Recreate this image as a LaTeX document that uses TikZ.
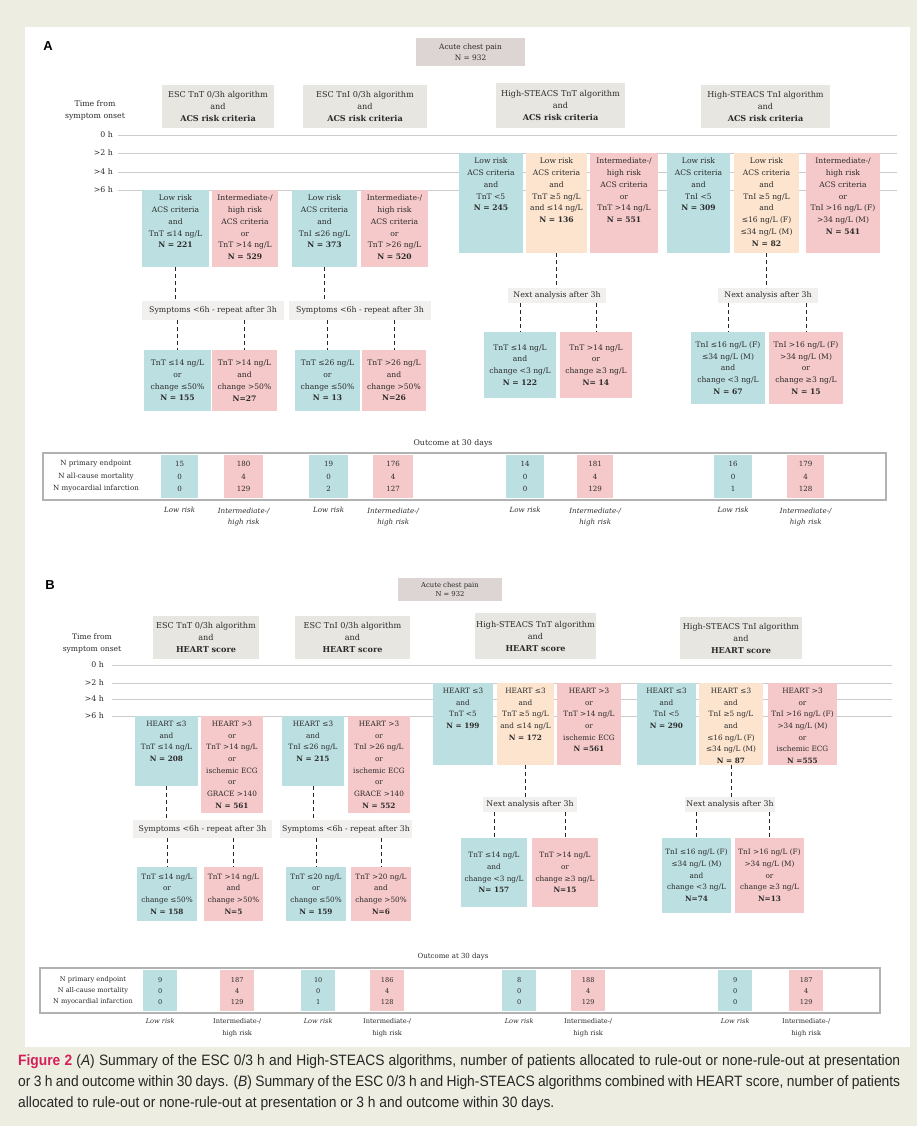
\documentclass[tikz,border=0pt]{standalone}
\usepackage{fontspec}
\setmainfont{DejaVu Serif}
\newfontfamily\capfont[FakeStretch=0.92]{Liberation Sans}
\newfontfamily\labfont{Liberation Sans}
\usetikzlibrary{positioning,calc}

\definecolor{pagebg}{HTML}{EDEEE1}
\definecolor{lowc}{HTML}{BCDFE1}
\definecolor{highc}{HTML}{F5C8C9}
\definecolor{midc}{HTML}{FCE4CE}
\definecolor{headc}{HTML}{E7E6E1}
\definecolor{rootc}{HTML}{DDD4D4}
\definecolor{notec}{HTML}{F1F0EE}
\definecolor{txt}{HTML}{2B2B2B}
\definecolor{figred}{HTML}{D3205A}

\newcommand{\boxfont}{\fontsize{7.6}{11.8}\selectfont}
\newcommand{\headfont}{\fontsize{8.1}{12}\selectfont}
\newcommand{\notefont}{\fontsize{7.8}{9}\selectfont}
\newcommand{\cellfont}{\fontsize{7.1}{12.5}\selectfont}

\tikzstyle{cell} = [inner sep=0pt, outer sep=0pt, align=center, text=txt, font=\boxfont]
\tikzstyle{lowrisk} = [cell, fill=lowc]
\tikzstyle{midrisk} = [cell, fill=midc]
\tikzstyle{highrisk} = [cell, fill=highc]
\tikzstyle{headbox} = [cell, fill=headc, anchor=north west, font=\headfont]
\tikzstyle{rootbox} = [cell, fill=rootc, font=\fontsize{7.4}{11}\selectfont]
\tikzstyle{notebox} = [cell, fill=notec, anchor=north west, font=\notefont]
\tikzstyle{flow} = [draw=black!85, dashed, dash pattern=on 4pt off 3pt, line width=0.8pt]
\tikzstyle{hourline} = [draw=gray!40, line width=0.8pt]
\tikzstyle{hourtext} = [inner sep=0pt, align=center, text=txt, font=\notefont]
\tikzstyle{tablecell} = [inner sep=0pt, align=center, text=txt, font=\cellfont, anchor=north west]
\tikzstyle{risklabel} = [inner sep=0pt, align=center, text=txt, font=\fontsize{7.1}{12}\selectfont\itshape, anchor=north]
\tikzstyle{tableframe} = [draw=gray!60, line width=2.4pt]
\tikzstyle{panellabel} = [inner sep=0pt, font=\labfont\bfseries\fontsize{13}{13}\selectfont]
\tikzstyle{capline} = [inner sep=0pt, anchor=west, text=black!85, font=\capfont\fontsize{15}{17}\selectfont]

% coloured box, text hung from the top edge
\newcommand{\topbox}[7]{%
  \node[#2, minimum width=#5, minimum height=#6, anchor=north west] (#1) at (#3,#4) {};
  \node[cell, anchor=north] (#1-t) at ([yshift=-5pt]#1.north) {#7};
}

\begin{document}
\begin{tikzpicture}[x=1pt,y=-1pt]
  \fill[pagebg] (0,0) rectangle (917,1126);
  \useasboundingbox (0,0) rectangle (917,1126);
  \fill[white] (25,27) rectangle (910,1047);

  % ---------------- panel A ----------------
  \node[panellabel] (labA) at (48,46) {A};
  \node[rootbox, minimum width=109, minimum height=28] (rootA) at (470.5,52) {Acute chest pain\\N = 932};
  \node[headbox, minimum width=112, minimum height=43] (escTnTA) at (162,85) {ESC TnT 0/3h algorithm\\and\\\textbf{ACS risk criteria}};
  \node[headbox, minimum width=124, minimum height=43] (escTnIA) at (303,85) {ESC TnI 0/3h algorithm\\and\\\textbf{ACS risk criteria}};
  \node[headbox, minimum width=129, minimum height=45] (hsTnTA) at (496,83) {High-STEACS TnT algorithm\\and\\\textbf{ACS risk criteria}};
  \node[headbox, minimum width=129, minimum height=43] (hsTnIA) at (701,85) {High-STEACS TnI algorithm\\and\\\textbf{ACS risk criteria}};

  \node[hourtext, font=\fontsize{7.8}{12}\selectfont] (onsetA) at (95,110) {Time from\\symptom onset};
  \foreach \y/\t in {135/0 h, 153/>2 h, 172/>4 h, 190/>6 h}{
    \node[hourtext, anchor=east] (hourA\y) at (113,\y) {\t};
    \draw[hourline] ([xshift=5pt]hourA\y.east) -- (897,\y);
  }

  \topbox{lowTnTA}{lowrisk}{142}{190}{67}{77}{Low risk\\ACS criteria\\and\\TnT ≤14 ng/L\\\textbf{N = 221}}
  \topbox{highTnTA}{highrisk}{212}{190}{66}{77}{Intermediate-/\\high risk\\ACS criteria\\or\\TnT >14 ng/L\\\textbf{N = 529}}
  \topbox{lowTnIA}{lowrisk}{292}{190}{65}{77}{Low risk\\ACS criteria\\and\\TnI ≤26 ng/L\\\textbf{N = 373}}
  \topbox{highTnIA}{highrisk}{361}{190}{67}{77}{Intermediate-/\\high risk\\ACS criteria\\or\\TnT >26 ng/L\\\textbf{N = 520}}
  \topbox{lowHTA}{lowrisk}{459}{153}{64}{100}{Low risk\\ACS criteria\\and\\TnT <5\\\textbf{N = 245}}
  \topbox{midHTA}{midrisk}{526}{153}{61}{100}{Low risk\\ACS criteria\\and\\TnT ≥5 ng/L\\and ≤14 ng/L\\\textbf{N = 136}}
  \topbox{highHTA}{highrisk}{590}{153}{68}{100}{Intermediate-/\\high risk\\ACS criteria\\or\\TnT >14 ng/L\\\textbf{N = 551}}
  \topbox{lowHIA}{lowrisk}{667}{153}{63}{100}{Low risk\\ACS criteria\\and\\TnI <5\\\textbf{N = 309}}
  \topbox{midHIA}{midrisk}{734}{153}{65}{100}{Low risk\\ACS criteria\\and\\TnI ≥5 ng/L\\and\\≤16 ng/L (F)\\≤34 ng/L (M)\\\textbf{N = 82}}
  \topbox{highHIA}{highrisk}{806}{153}{74}{100}{Intermediate-/\\high risk\\ACS criteria\\or\\TnI >16 ng/L (F)\\>34 ng/L (M)\\\textbf{N = 541}}

  \node[notebox, minimum width=142, minimum height=19] (symA1) at (142,301) {Symptoms <6h - repeat after 3h};
  \node[notebox, minimum width=142, minimum height=19] (symA2) at (289,301) {Symptoms <6h - repeat after 3h};
  \node[notebox, minimum width=98, minimum height=15] (nextA1) at (508,288) {Next analysis after 3h};
  \node[notebox, minimum width=100, minimum height=15] (nextA2) at (718,288) {Next analysis after 3h};

  \node[lowrisk, minimum width=67, minimum height=61, anchor=north west] (lowTnTA2) at (144,350) {TnT ≤14 ng/L\\or\\change ≤50\%\\\textbf{N = 155}};
  \node[highrisk, minimum width=65, minimum height=61, anchor=north west] (highTnTA2) at (212,350) {TnT >14 ng/L\\and\\change >50\%\\\textbf{N=27}};
  \node[lowrisk, minimum width=65, minimum height=61, anchor=north west] (lowTnIA2) at (295,350) {TnT ≤26 ng/L\\or\\change ≤50\%\\\textbf{N = 13}};
  \node[highrisk, minimum width=64, minimum height=61, anchor=north west] (highTnIA2) at (362,350) {TnT >26 ng/L\\and\\change >50\%\\\textbf{N=26}};
  \node[lowrisk, minimum width=72, minimum height=66, anchor=north west] (lowHTA2) at (484,332) {TnT ≤14 ng/L\\and\\change <3 ng/L\\\textbf{N = 122}};
  \node[highrisk, minimum width=72, minimum height=66, anchor=north west] (highHTA2) at (560,332) {TnT >14 ng/L\\or\\change ≥3 ng/L\\\textbf{N= 14}};
  \node[lowrisk, minimum width=74, minimum height=72, anchor=north west] (lowHIA2) at (691,332) {TnI ≤16 ng/L (F)\\≤34 ng/L (M)\\and\\change <3 ng/L\\\textbf{N = 67}};
  \node[highrisk, minimum width=74, minimum height=72, anchor=north west] (highHIA2) at (769,332) {TnI >16 ng/L (F)\\>34 ng/L (M)\\or\\change ≥3 ng/L\\\textbf{N = 15}};

  \draw[flow] (lowTnTA.south) -- (lowTnTA.south |- symA1.north);
  \draw[flow] (lowTnIA.south) -- (lowTnIA.south |- symA2.north);
  \draw[flow] (lowTnTA2.north |- symA1.south) -- (lowTnTA2.north);
  \draw[flow] (highTnTA2.north |- symA1.south) -- (highTnTA2.north);
  \draw[flow] (lowTnIA2.north |- symA2.south) -- (lowTnIA2.north);
  \draw[flow] (highTnIA2.north |- symA2.south) -- (highTnIA2.north);
  \draw[flow] (midHTA.south) -- (midHTA.south |- nextA1.north);
  \draw[flow] (midHIA.south) -- (midHIA.south |- nextA2.north);
  \draw[flow] (lowHTA2.north |- nextA1.south) -- (lowHTA2.north);
  \draw[flow] (highHTA2.north |- nextA1.south) -- (highHTA2.north);
  \draw[flow] (lowHIA2.north |- nextA2.south) -- (lowHIA2.north);
  \draw[flow] (highHIA2.north |- nextA2.south) -- (highHIA2.north);

  % outcome table A
  \node[hourtext] (outA) at (453,443) {Outcome at 30 days};
  \foreach \n/\x/\w/\c/\v in {1/161/37/lowc/{15\\0\\0}, 2/224/39/highc/{180\\4\\129},
      3/309/39/lowc/{19\\0\\2}, 4/373/40/highc/{176\\4\\127}, 5/506/38/lowc/{14\\0\\0},
      6/577/36/highc/{181\\4\\129}, 7/714/38/lowc/{16\\0\\1}, 8/787/37/highc/{179\\4\\128}}{
    \node[tablecell, fill=\c, minimum width=\w, minimum height=43] (cellA\n) at (\x,455) {\v};
  }
  \draw[tableframe] (43,453) rectangle (886,500);
  \node[tablecell, anchor=center] (rowsA) at (96,476.5) {N primary endpoint\\N all-cause mortality\\N myocardial infarction};
  \foreach \n in {1,3,5,7}{
    \node[risklabel] (riskA\n) at ([yshift=-9pt]cellA\n.south) {Low risk};
  }
  \foreach \n in {2,4,6,8}{
    \node[risklabel] (riskA\n) at ([yshift=-9pt]cellA\n.south) {Intermediate-/\\high risk};
  }

  % ---------------- panel B ----------------
  \renewcommand{\boxfont}{\fontsize{7.3}{11.7}\selectfont}
  \node[panellabel] (labB) at (50,585) {B};
  \node[rootbox, minimum width=104, minimum height=23, font=\fontsize{6.8}{9.5}\selectfont] (rootB) at (450,589.5) {Acute chest pain\\N = 932};
  \node[headbox, minimum width=106, minimum height=43] (escTnTB) at (153,616) {ESC TnT 0/3h algorithm\\and\\\textbf{HEART score}};
  \node[headbox, minimum width=115, minimum height=43] (escTnIB) at (295,616) {ESC TnI 0/3h algorithm\\and\\\textbf{HEART score}};
  \node[headbox, minimum width=121, minimum height=46] (hsTnTB) at (475,613) {High-STEACS TnT algorithm\\and\\\textbf{HEART score}};
  \node[headbox, minimum width=122, minimum height=42] (hsTnIB) at (680,617) {High-STEACS TnI algorithm\\and\\\textbf{HEART score}};

  \node[hourtext, font=\fontsize{7.6}{12}\selectfont] (onsetB) at (92,643) {Time from\\symptom onset};
  \foreach \y/\t in {665/0 h, 683/>2 h, 699/>4 h, 716/>6 h}{
    \node[hourtext, anchor=east] (hourB\y) at (104,\y) {\t};
    \draw[hourline] ([xshift=8pt]hourB\y.east) -- (892,\y);
  }

  \topbox{lowTnTB}{lowrisk}{135}{716}{63}{70}{HEART ≤3\\and\\TnT ≤14 ng/L\\\textbf{N = 208}}
  \topbox{highTnTB}{highrisk}{201}{716}{62}{97}{HEART >3\\or\\TnT >14 ng/L\\or\\ischemic ECG\\or\\GRACE >140\\\textbf{N = 561}}
  \topbox{lowTnIB}{lowrisk}{282}{716}{62}{70}{HEART ≤3\\and\\TnI ≤26 ng/L\\\textbf{N = 215}}
  \topbox{highTnIB}{highrisk}{348}{716}{62}{97}{HEART >3\\or\\TnI >26 ng/L\\or\\ischemic ECG\\or\\GRACE >140\\\textbf{N = 552}}
  \topbox{lowHTB}{lowrisk}{433}{683}{60}{82}{HEART ≤3\\and\\TnT <5\\\textbf{N = 199}}
  \topbox{midHTB}{midrisk}{497}{683}{57}{82}{HEART ≤3\\and\\TnT ≥5 ng/L\\and ≤14 ng/L\\\textbf{N = 172}}
  \topbox{highHTB}{highrisk}{557}{683}{64}{82}{HEART >3\\or\\TnT >14 ng/L\\or\\ischemic ECG\\\textbf{N =561}}
  \topbox{lowHIB}{lowrisk}{637}{683}{59}{82}{HEART ≤3\\and\\TnI <5\\\textbf{N = 290}}
  \topbox{midHIB}{midrisk}{699}{683}{64}{82}{HEART ≤3\\and\\TnI ≥5 ng/L\\and\\≤16 ng/L (F)\\≤34 ng/L (M)\\\textbf{N = 87}}
  \topbox{highHIB}{highrisk}{768}{683}{69}{82}{HEART >3\\or\\TnI >16 ng/L (F)\\>34 ng/L (M)\\or\\ischemic ECG\\\textbf{N =555}}

  \node[notebox, minimum width=139, minimum height=18] (symB1) at (133,820) {Symptoms <6h - repeat after 3h};
  \node[notebox, minimum width=132, minimum height=18] (symB2) at (280,820) {Symptoms <6h - repeat after 3h};
  \node[notebox, minimum width=94, minimum height=15] (nextB1) at (483,797) {Next analysis after 3h};
  \node[notebox, minimum width=90, minimum height=15] (nextB2) at (685,797) {Next analysis after 3h};

  \node[lowrisk, minimum width=60, minimum height=54, anchor=north west] (lowTnTB2) at (137,867) {TnT ≤14 ng/L\\or\\change ≤50\%\\\textbf{N = 158}};
  \node[highrisk, minimum width=59, minimum height=54, anchor=north west] (highTnTB2) at (204,867) {TnT >14 ng/L\\and\\change >50\%\\\textbf{N=5}};
  \node[lowrisk, minimum width=60, minimum height=54, anchor=north west] (lowTnIB2) at (286,867) {TnT ≤20 ng/L\\or\\change ≤50\%\\\textbf{N = 159}};
  \node[highrisk, minimum width=60, minimum height=54, anchor=north west] (highTnIB2) at (351,867) {TnT >20 ng/L\\and\\change >50\%\\\textbf{N=6}};
  \node[lowrisk, minimum width=66, minimum height=69, anchor=north west] (lowHTB2) at (461,838) {TnT ≤14 ng/L\\and\\change <3 ng/L\\\textbf{N= 157}};
  \node[highrisk, minimum width=66, minimum height=69, anchor=north west] (highHTB2) at (532,838) {TnT >14 ng/L\\or\\change ≥3 ng/L\\\textbf{N=15}};
  \node[lowrisk, minimum width=69, minimum height=75, anchor=north west] (lowHIB2) at (662,838) {TnI ≤16 ng/L (F)\\≤34 ng/L (M)\\and\\change <3 ng/L\\\textbf{N=74}};
  \node[highrisk, minimum width=69, minimum height=75, anchor=north west] (highHIB2) at (735,838) {TnI >16 ng/L (F)\\>34 ng/L (M)\\or\\change ≥3 ng/L\\\textbf{N=13}};

  \draw[flow] (lowTnTB.south) -- (lowTnTB.south |- symB1.north);
  \draw[flow] (lowTnIB.south) -- (lowTnIB.south |- symB2.north);
  \draw[flow] (lowTnTB2.north |- symB1.south) -- (lowTnTB2.north);
  \draw[flow] (highTnTB2.north |- symB1.south) -- (highTnTB2.north);
  \draw[flow] (lowTnIB2.north |- symB2.south) -- (lowTnIB2.north);
  \draw[flow] (highTnIB2.north |- symB2.south) -- (highTnIB2.north);
  \draw[flow] (midHTB.south) -- (midHTB.south |- nextB1.north);
  \draw[flow] (midHIB.south) -- (midHIB.south |- nextB2.north);
  \draw[flow] (lowHTB2.north |- nextB1.south) -- (lowHTB2.north);
  \draw[flow] (highHTB2.north |- nextB1.south) -- (highHTB2.north);
  \draw[flow] (lowHIB2.north |- nextB2.south) -- (lowHIB2.north);
  \draw[flow] (highHIB2.north |- nextB2.south) -- (highHIB2.north);

  % outcome table B
  \node[hourtext, font=\fontsize{7}{9}\selectfont] (outB) at (453,957) {Outcome at 30 days};
  \foreach \n/\x/\c/\v in {1/143/lowc/{9\\0\\0}, 2/220/highc/{187\\4\\129},
      3/301/lowc/{10\\0\\1}, 4/370/highc/{186\\4\\128}, 5/502/lowc/{8\\0\\0},
      6/571/highc/{188\\4\\129}, 7/718/lowc/{9\\0\\0}, 8/789/highc/{187\\4\\129}}{
    \node[tablecell, fill=\c, minimum width=34, minimum height=41, font=\fontsize{6.6}{11}\selectfont] (cellB\n) at (\x,970) {\v};
  }
  \draw[tableframe] (40,968) rectangle (880,1013);
  \node[tablecell, anchor=center, font=\fontsize{6.6}{11}\selectfont] (rowsB) at (93,990.5) {N primary endpoint\\N all-cause mortality\\N myocardial infarction};
  \foreach \n in {1,3,5,7}{
    \node[risklabel, font=\fontsize{6.6}{11.5}\selectfont\itshape] (riskB\n) at ([yshift=-7pt]cellB\n.south) {Low risk};
  }
  \foreach \n in {2,4,6,8}{
    \node[risklabel, font=\fontsize{6.6}{11.5}\selectfont] (riskB\n) at ([yshift=-7pt]cellB\n.south) {Intermediate-/\\high risk};
  }

  % caption
  \node[capline] (cap1) at (18,1062) {\makebox[882pt][s]{\textcolor{figred}{\bfseries Figure 2} (\textit{A}) Summary of the ESC 0/3 h and High-STEACS algorithms, number of patients allocated to rule-out or none-rule-out at presentation}};
  \node[capline] (cap2) at (18,1083) {\makebox[882pt][s]{or 3 h and outcome within 30 days. (\textit{B}) Summary of the ESC 0/3 h and High-STEACS algorithms combined with HEART score, number of patients}};
  \node[capline] (cap3) at (18,1104) {allocated to rule-out or none-rule-out at presentation or 3 h and outcome within 30 days.};
\end{tikzpicture}
\end{document}
